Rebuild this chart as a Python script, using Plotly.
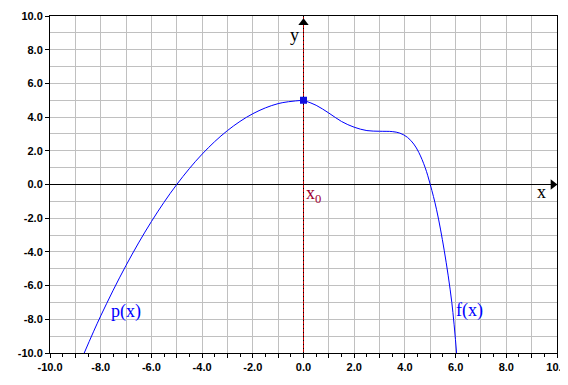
import plotly.graph_objects as go

# p(x) branch (left of x0)
p_x = [-8.65, -8.0, -7.0, -6.0, -5.0, -4.0, -3.0, -2.0, -1.0, 0.0]
p_y = [-10.0, -7.8, -4.8, -2.2, 0.0, 1.8, 3.2, 4.2, 4.8, 5.0]

# f(x) branch (right of x0)
f_x = [0.0, 0.5, 1.0, 1.5, 2.0, 2.5, 3.0, 3.5, 3.8, 4.1, 4.35, 4.55, 4.8, 5.0, 5.25, 5.55, 5.85, 6.05]
f_y = [5.0, 4.7, 4.24, 3.74, 3.4, 3.2, 3.16, 3.14, 3.05, 2.8, 2.4, 1.9, 1.0, 0.0, -1.5, -3.9, -7.0, -10.2]

# the point x0
x0 = [0.0]
y0 = [5.0]

# axis ticks
x_ticks = list(range(-10, 11))
x_ticktext = [f"{v:.1f}" if v % 2 == 0 else "" for v in x_ticks]
y_ticks = list(range(-10, 11, 2))
y_ticktext = [f"{v:.1f}" for v in y_ticks]

BLUE = "#0000ff"
DARKRED = "#a00030"

fig = go.Figure()

# y axis (vertical line through x0): red with black dashes
fig.add_trace(go.Scatter(x=[0, 0], y=[-10, 10], mode="lines",
                         line=dict(color="#c00000", width=1), hoverinfo="skip"))
fig.add_trace(go.Scatter(x=[0, 0], y=[-10, 10], mode="lines",
                         line=dict(color="black", width=1, dash="1px,3px"), hoverinfo="skip"))

fig.add_trace(go.Scatter(x=p_x, y=p_y, mode="lines",
                         line=dict(color=BLUE, width=1, shape="spline", smoothing=1.0)))
fig.add_trace(go.Scatter(x=f_x, y=f_y, mode="lines",
                         line=dict(color=BLUE, width=1, shape="spline", smoothing=1.0)))
fig.add_trace(go.Scatter(x=x0, y=y0, mode="markers",
                         marker=dict(symbol="square", size=7, color="#1010e0",
                                     line=dict(width=0))))

# arrow heads
fig.add_trace(go.Scatter(x=[0], y=[9.6], mode="markers",
                         marker=dict(symbol="triangle-up", size=9, color="black"),
                         cliponaxis=False))
fig.add_trace(go.Scatter(x=[9.84], y=[0], mode="markers",
                         marker=dict(symbol="triangle-right", size=9, color="black"),
                         cliponaxis=False))

serif = "Liberation Serif, Times New Roman, serif"
ann = [
    dict(x=9.4, y=-0.45, text="x", font=dict(family=serif, size=18, color="black")),
    dict(x=-0.36, y=8.9, text="y", font=dict(family=serif, size=18, color="black")),
    dict(x=0.4, y=-0.6, text="x<sub>0</sub>", font=dict(family=serif, size=18, color=DARKRED)),
    dict(x=-7.0, y=-7.55, text="p(x)", font=dict(family=serif, size=18, color=BLUE)),
    dict(x=6.54, y=-7.45, text="f(x)", font=dict(family=serif, size=18, color=BLUE)),
]
for a in ann:
    a.update(xref="x", yref="y", showarrow=False)

tickfont = dict(family="Liberation Sans", size=11, color="black", weight="bold")

# page body has an 8px margin; the figure is sized so the page fits the window without scrolling
fig.update_layout(
    width=560, height=369,
    margin=dict(l=42, r=11, t=8, b=24, autoexpand=False),
    paper_bgcolor="white", plot_bgcolor="white",
    showlegend=False,
    annotations=ann,
    xaxis=dict(range=[-10, 10], tickmode="array", tickvals=x_ticks, ticktext=x_ticktext,
               ticks="outside", ticklen=4, tickcolor="black", tickfont=tickfont,
               ticklabeloverflow="allow",
               showgrid=True, gridcolor="#c0c0c0", gridwidth=1, automargin=False,
               zeroline=False, showline=True, linecolor="black", linewidth=1, mirror=True,
               minor=dict(tick0=0, dtick=0.5, ticks="outside", ticklen=3, tickcolor="black",
                          showgrid=False),
               fixedrange=True),
    yaxis=dict(range=[-10, 10], tickmode="array", tickvals=y_ticks, ticktext=y_ticktext,
               ticks="outside", ticklen=4, tickcolor="black", tickfont=tickfont,
               ticklabeloverflow="allow",
               showgrid=True, gridcolor="#c0c0c0", gridwidth=1, automargin=False,
               zeroline=True, zerolinecolor="black", zerolinewidth=1,
               showline=True, linecolor="black", linewidth=1, mirror=True,
               minor=dict(tick0=0, dtick=1, ticks="", showgrid=True, gridcolor="#c0c0c0", gridwidth=1),
               fixedrange=True),
)

fig.write_html("out.html")
